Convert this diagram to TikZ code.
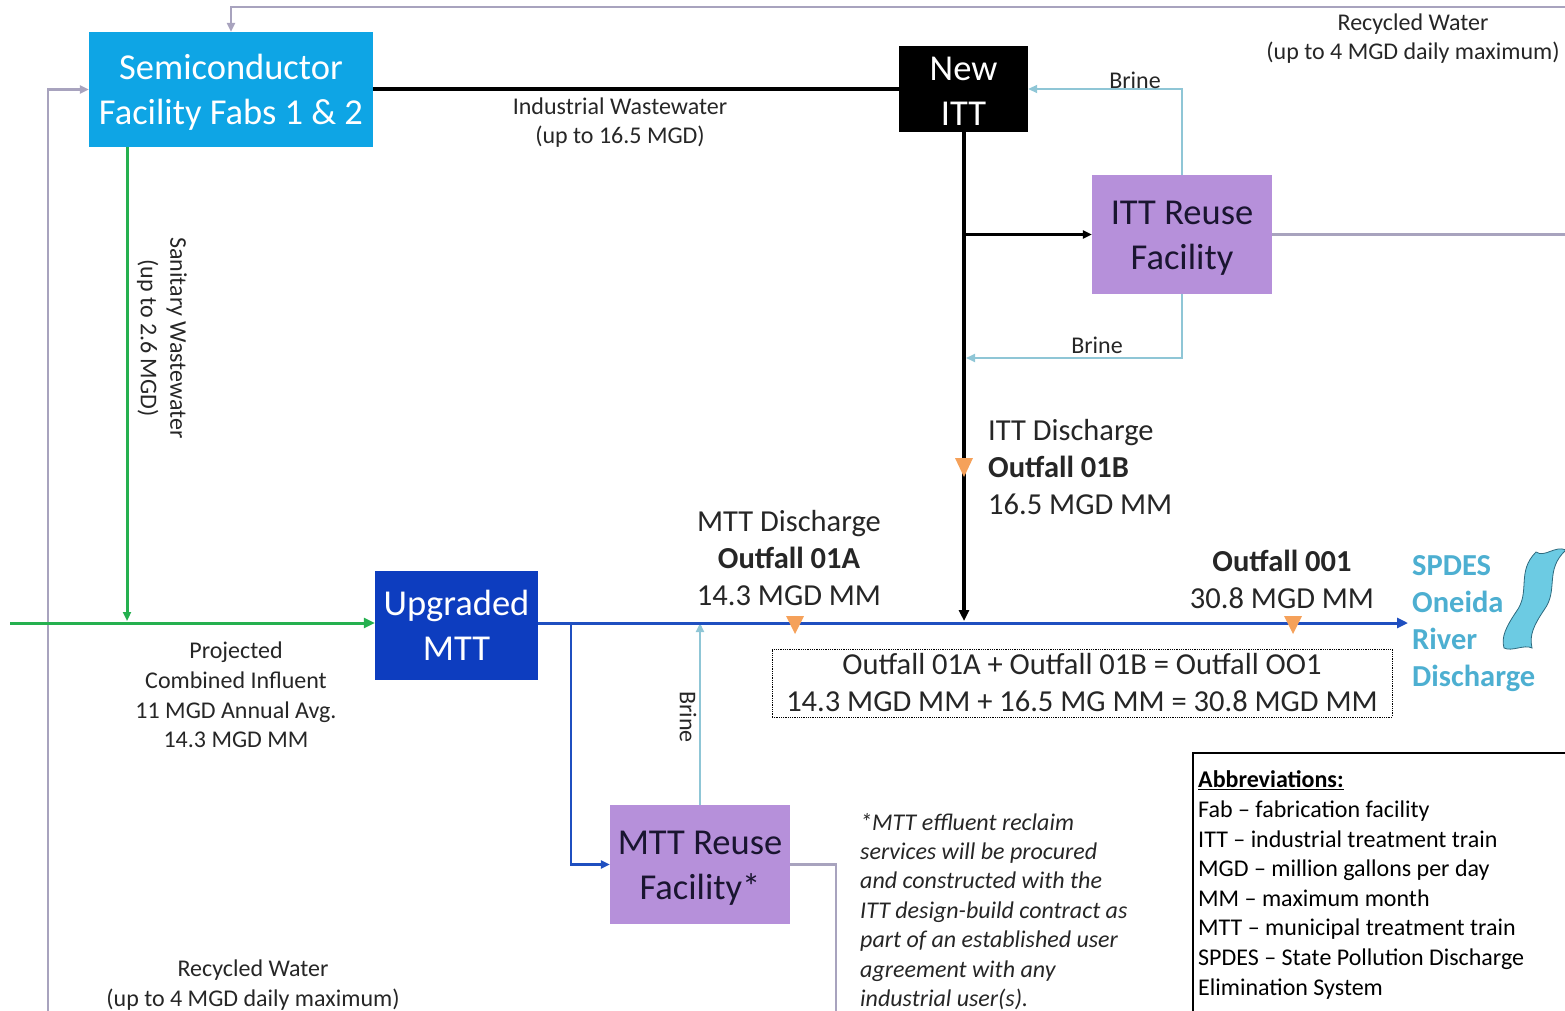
\documentclass[tikz,border=0pt]{standalone}
\usepackage{fontspec}
\setmainfont{Carlito}
\usetikzlibrary{arrows.meta}
\definecolor{semicol}{HTML}{0EA5E5}
\definecolor{mttblue}{HTML}{0D3DBF}
\definecolor{reusecol}{HTML}{B690DA}
\definecolor{greencol}{HTML}{25B04F}
\definecolor{bluecol}{HTML}{1F4FC0}
\definecolor{brinecol}{HTML}{8FC6D6}
\definecolor{recyccol}{HTML}{A8A3BE}
\definecolor{orngcol}{HTML}{F5A15A}
\definecolor{spdescol}{HTML}{4DAFD1}
\definecolor{rivercol}{HTML}{6CCBE3}
\definecolor{darktext}{HTML}{1A1530}
\newcommand\SmallF{\fontsize{24}{29.6}\selectfont}
\newcommand\MidF{\fontsize{30.5}{37}\selectfont}
\newcommand\BigF{\fontsize{36.5}{45}\selectfont}
\begin{document}
\begin{tikzpicture}[x=1pt,y=-1pt,
  boxnode/.style={inner sep=0pt},
  boxtext/.style={inner sep=0pt, align=center, font=\BigF},
  lbl/.style={inner sep=0pt, align=center, font=\SmallF, text=black!85},
  midlbl/.style={inner sep=0pt, align=center, font=\MidF, text=black!85},
  tip/.style={-{Triangle[length=11pt,width=10pt]}},
  smalltip/.style={-{Triangle[length=9pt,width=8pt]}},
  recyc/.style={draw=recyccol, line width=2.5pt},
  greenl/.style={draw=greencol, line width=3pt},
  bluel/.style={draw=bluecol, line width=3pt},
  brinel/.style={draw=brinecol, line width=2pt},
  blk/.style={draw=black, line width=#1},
]
\useasboundingbox (0,0) rectangle (1565,1011);

% ---------- boxes ----------
\node[boxnode, fill=semicol, minimum width=284pt, minimum height=115pt] (semi) at (231,89.5) {};
\node[boxtext, text=white] (semiT) at (231,92.5) {Semiconductor\\Facility Fabs 1 \& 2};
\node[boxnode, fill=black, minimum width=129pt, minimum height=86pt] (itt) at (963.5,89) {};
\node[boxtext, text=white] (ittT) at (963.5,91) {New\\ITT};
\node[boxnode, fill=reusecol, minimum width=180pt, minimum height=119pt] (itr) at (1182,234.5) {};
\node[boxtext, text=darktext] (itrT) at (1182,238.5) {ITT Reuse\\Facility};
\node[boxnode, fill=mttblue, minimum width=163pt, minimum height=109pt] (upg) at (456.5,625.5) {};
\node[boxtext, text=white] (upgT) at (456.5,625.5) {Upgraded\\MTT};
\node[boxnode, fill=reusecol, minimum width=180pt, minimum height=119pt] (mttr) at (700,864.5) {};
\node[boxtext, text=darktext] (mttrT) at (700,868.5) {MTT Reuse\\Facility*};

% ---------- coordinates ----------
\coordinate (topR) at (1566,7);
\coordinate (topL) at (231,7);
\coordinate (botL) at (48,1012);
\coordinate (botR) at (836,1012);
\coordinate (gin) at (10,623);
\coordinate (san) at (127,621);
\coordinate (join) at (964,621);
\coordinate (out) at (1408,623);
\coordinate (bsplit) at (571,623);
\coordinate (brin2) at (966,358);

% ---------- recycled water (grey) ----------
\draw[recyc] (itr.east) -- (itr.east -| topR);
\draw[recyc, smalltip] (topR) -- (topL) -- (semi.north);
\draw[recyc, smalltip] (botL) |- (semi.west);
\draw[recyc] (mttr.east) -| (botR);

% ---------- green influent ----------
\draw[greenl, tip] (gin) -- (gin -| upg.west);
\draw[greenl, smalltip] (semi.south -| san) -- (san);

% ---------- black industrial ----------
\draw[blk=4pt] (semi.east) -- (semi.east -| itt.west);
\draw[blk=3.5pt, tip] (itt.south -| join) -- (join);
\draw[blk=2.5pt, smalltip] (itt.south -| join) |- (itr.west);

% ---------- brine ----------
\draw[brinel, smalltip] (itr.north) |- (itt.east);
\draw[brinel, smalltip] (itr.south) |- (brin2);
\draw[brinel, smalltip] (mttr.north) -- (mttr.north |- out);

% ---------- blue effluent ----------
\draw[bluel, tip] (upg.east |- out) -- (out);
\draw[bluel, line width=2.5pt, smalltip] (bsplit) |- (mttr.west);

% ---------- orange outfall markers ----------
\fill[orngcol] (786,616) -- (804,616) -- (795,634) -- cycle;
\fill[orngcol] (1284,616) -- (1302,616) -- (1293,634) -- cycle;
\fill[orngcol] (955,458) -- (973,458) -- (964,477) -- cycle;

% ---------- labels ----------
\node[lbl] (lrecT) at (1413,38.5) {Recycled Water\\(up to 4 MGD daily maximum)};
\node[lbl] (lind) at (620,122.5) {Industrial Wastewater\\(up to 16.5 MGD)};
\node[lbl] (lbr1) at (1135,80) {Brine};
\node[lbl] (lbr2) at (1097,345) {Brine};
\node[lbl, rotate=-90] (lbr3) at (688,717) {Brine};
\node[lbl, rotate=-90] (lsan) at (162,338) {Sanitary Wastewater\\(up to 2.6 MGD)};
\node[lbl] (lproj) at (236,695) {Projected\\Combined Influent\\11 MGD Annual Avg.\\14.3 MGD MM};
\node[lbl] (lrecB) at (253,985) {Recycled Water\\(up to 4 MGD daily maximum)};

\node[midlbl, anchor=west, align=left] (litt) at (988,467) {ITT Discharge\\\textbf{Outfall 01B}\\16.5 MGD MM};
\node[midlbl] (lmtt) at (789,558.5) {MTT Discharge\\\textbf{Outfall 01A}\\14.3 MGD MM};
\node[midlbl] (l001) at (1282,579) {\textbf{Outfall 001}\\30.8 MGD MM};
\node[midlbl, draw=black, densely dotted, line width=0.8pt, minimum width=620pt, minimum height=68pt] (sum) at (1082,683) {Outfall 01A + Outfall 01B = Outfall OO1\\14.3 MGD MM + 16.5 MG MM = 30.8 MGD MM};

\node[inner sep=0pt, anchor=west, align=left, font=\MidF\bfseries, text=spdescol] (spdes) at (1412,624) {SPDES\\Oneida\\River\\Discharge};

% river icon (wavy ribbon)
\path[fill=rivercol, draw=spdescol!60!black, line width=0.8pt]
  (1536,552) .. controls (1516,572) and (1531,592) .. (1516,612)
  .. controls (1506,627) and (1501,637) .. (1504,648)
  .. controls (1512,652) and (1524,644) .. (1532,648)
  .. controls (1529,635) and (1534,625) .. (1544,610)
  .. controls (1559,590) and (1544,570) .. (1566,550)
  .. controls (1555,545) and (1545,558) .. cycle;

% footnote
\node[lbl, anchor=west, align=left, font=\fontsize{24}{29.4}\selectfont\itshape] (foot) at (860,911.5) {*MTT effluent reclaim\\services will be procured\\and constructed with the\\ITT design-build contract as\\part of an established user\\agreement with any\\industrial user(s).};

% abbreviations
\draw[black, line width=1.5pt] (1193,753) rectangle (1570,1020);
\node[lbl, anchor=west, align=left, text=black] (abbr) at (1198,885) {\textbf{\underline{Abbreviations:}}\\Fab -- fabrication facility\\ITT -- industrial treatment train\\MGD -- million gallons per day\\MM -- maximum month\\MTT -- municipal treatment train\\SPDES -- State Pollution Discharge\\Elimination System};
\end{tikzpicture}
\end{document}
